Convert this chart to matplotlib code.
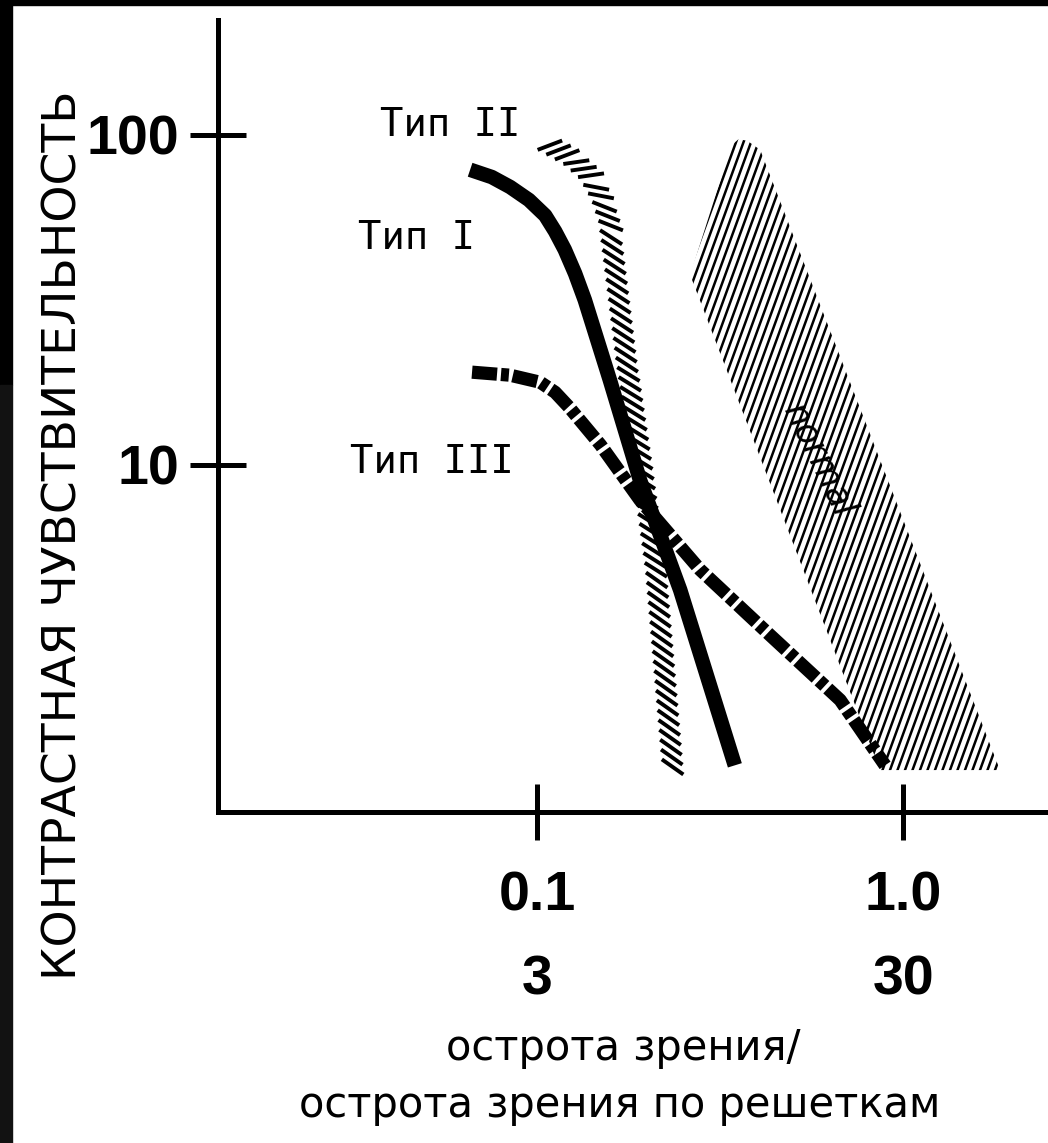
"""Contrast sensitivity vs acuity: amblyopia types I-III against the normal band."""
import numpy as np
import matplotlib
matplotlib.use("Agg")
import matplotlib.pyplot as plt
from matplotlib import patheffects
from matplotlib.collections import LineCollection
from matplotlib.patches import Polygon, Rectangle

# values (log-log axes)
type1_x = [0.0656, 0.0752, 0.0844, 0.0950, 0.1052, 0.112, 0.119, 0.127, 0.135,
           0.158, 0.191, 0.246, 0.347]
type1_y = [78.4, 74.5, 69.5, 63.5, 57.0, 51.0, 44.9, 38.0, 31.6,
           18.1, 9.0, 4.18, 1.23]

type2_x = [0.0988, 0.119, 0.132, 0.142, 0.149, 0.156, 0.166, 0.182, 0.200, 0.222]
type2_y = [92.0, 82.0, 74.0, 64.0, 54.5, 36.4, 20.8, 10.4, 4.8, 1.23]

type3_x = [0.0664, 0.0844, 0.102, 0.112, 0.122, 0.149, 0.191, 0.279, 0.433, 0.673, 0.893]
type3_y = [19.1, 18.7, 17.8, 16.6, 15.0, 11.5, 7.83, 4.81, 3.05, 1.94, 1.23]

# outline of the hatched "normal" band
normal_x = [0.262, 0.340, 0.355, 0.375, 0.407, 1.84, 0.865]
normal_y = [37.6, 93.0, 97.0, 96.0, 90.1, 1.19, 1.19]

xticks = [0.1, 1.0]
xticklabels = ["0.1\n3", "1.0\n30"]
yticks = [10, 100]
yticklabels = ["10", "100"]

plt.rcParams["font.family"] = ["DejaVu Sans"]
num_font = ["Liberation Sans Narrow", "Liberation Sans", "DejaVu Sans"]

fig = plt.figure(figsize=(10.48, 11.43), dpi=100)
ax = fig.add_axes([218 / 1048, 1 - 812 / 1143, 1 - 218 / 1048, (812 - 20) / 1143])
ax.set_xscale("log")
ax.set_yscale("log")
ax.set_xlim(10 ** -1.872, 10 ** 0.396)
ax.set_ylim(10 ** -0.0515, 10 ** 2.348)

for side in ("top", "right"):
    ax.spines[side].set_visible(False)
for side in ("left", "bottom"):
    ax.spines[side].set_linewidth(3.6)

ax.minorticks_off()
ax.set_xticks(xticks, xticklabels)
ax.set_yticks(yticks, yticklabels)
ax.tick_params(direction="inout", length=40, width=3.6)
ax.tick_params(axis="x", pad=22)
ax.tick_params(axis="y", pad=8)
for t in ax.get_xticklabels() + ax.get_yticklabels():
    t.set_fontfamily(num_font)
    t.set_fontweight("bold")
    t.set_fontsize(40)
for t in ax.get_xticklabels():
    t.set_linespacing(1.8)

# normal band: steep hatch lines clipped to the outline
band = Polygon(np.column_stack([normal_x, normal_y]), closed=True,
               facecolor="none", edgecolor="none")
ax.add_patch(band)
W, H = ax.bbox.width, ax.bbox.height
ang = np.deg2rad(70)
dx = H / np.tan(ang) / W
step = 7.5 / W
segs = [[(c, 0), (c + dx, 1)] for c in np.arange(-dx, 1 + step, step)]
lc = LineCollection(segs, colors="black", linewidths=1.8, transform=ax.transAxes)
lc.set_clip_path(band)
ax.add_collection(lc, autolim=False)

ax.plot(type1_x, type1_y, color="black", lw=10.5, solid_capstyle="butt",
        solid_joinstyle="round")
ax.plot(type2_x, type2_y, color="black", lw=2.8,
        path_effects=[patheffects.TickedStroke(spacing=7.0, angle=50, length=2.3)])
ax.plot(type3_x, type3_y, color="black", lw=9.5, dashes=(1.9, 0.3, 0.6, 0.3),
        dash_capstyle="butt", dash_joinstyle="round")

lab_font = ["DejaVu Sans Mono"]
ax.text(0.0373, 107, "Тип II", fontsize=28, family=lab_font, va="center", ha="left")
ax.text(0.0324, 48.8, "Тип I", fontsize=28, family=lab_font, va="center", ha="left")
ax.text(0.0308, 10.2, "Тип III", fontsize=28, family=lab_font, va="center", ha="left")
ax.text(0.59, 10.3, "normal", fontsize=25, style="italic", rotation=-64,
        rotation_mode="anchor", ha="center", va="center")

fig.text(64 / 1048, 1 - 535 / 1143, "КОНТРАСТНАЯ ЧУВСТВИТЕЛЬНОСТЬ", rotation=90,
         fontsize=34, ha="center", va="center")
fig.text(623 / 1048, 1 - 1048 / 1143, "острота зрения/", fontsize=30,
         ha="center", va="center")
fig.text(620 / 1048, 1 - 1105 / 1143, "острота зрения по решеткам", fontsize=30,
         ha="center", va="center")

# dark frame remnants along top and left edges
fig.patches.append(Rectangle((0, 1 - 5 / 1143), 1, 5 / 1143, color="black",
                             transform=fig.transFigure, figure=fig))
fig.patches.append(Rectangle((0, 1 - 385 / 1143), 12 / 1048, 385 / 1143, color="black",
                             transform=fig.transFigure, figure=fig))
fig.patches.append(Rectangle((0, 0), 12 / 1048, 1 - 385 / 1143, color="#121212",
                             transform=fig.transFigure, figure=fig))

fig.savefig("out.png", dpi=100)
